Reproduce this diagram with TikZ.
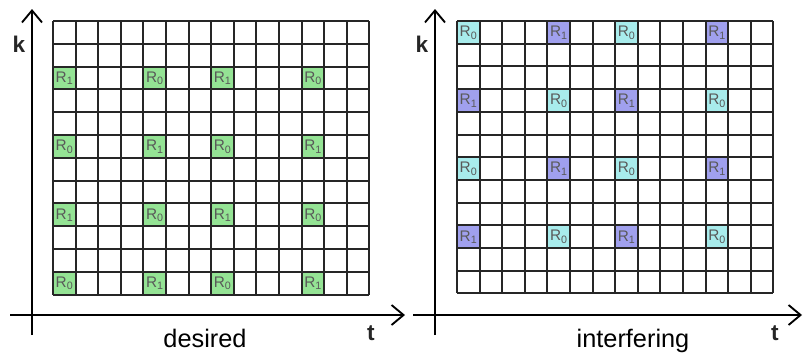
\documentclass[tikz,border=0pt]{standalone}
\usepackage{fontspec}
\setmainfont{Liberation Sans}
\usetikzlibrary{arrows.meta}
\definecolor{desgreen}{HTML}{94E394}
\definecolor{intcyan}{HTML}{A8ECEC}
\definecolor{intpurple}{HTML}{A0A0EE}

\begin{document}
\begin{tikzpicture}[x=0.75pt,y=-0.75pt,
  gridline/.style={line width=1.5pt, draw=black!85},
  axis/.style={line width=1.1pt, -{Straight Barb[length=9pt,width=15pt,line width=1.4pt]}},
  cell/.style={anchor=north west, minimum width=16.95pt, minimum height=17.1pt,
               inner sep=0pt, font=\fontsize{11.5}{11.5}\selectfont, text=black!65},
  axlabel/.style={font=\fontsize{17}{17}\selectfont\bfseries, text=black!85},
  caption/.style={font=\fontsize{19}{19}\selectfont, anchor=base}
]
\useasboundingbox (0,0) rectangle (803,354);

% desired
\foreach \r/\c/\n in {2/0/1, 2/4/0, 2/7/1, 2/11/0,
                      5/0/0, 5/4/1, 5/7/0, 5/11/1,
                      8/0/1, 8/4/0, 8/7/1, 8/11/0,
                      11/0/0, 11/4/1, 11/7/0, 11/11/1}
  \node[cell, fill=desgreen] (des-\r-\c) at ({53+22.6*\c},{21+22.8*\r}) {R\textsubscript{\n}};
\foreach \i in {0,...,14}
  \draw[gridline] ({53+22.6*\i},21) -- ({53+22.6*\i},294.6);
\foreach \j in {0,...,12}
  \draw[gridline] (53,{21+22.8*\j}) -- (369.4,{21+22.8*\j});

\coordinate (des-kbot) at (32,335);
\coordinate (des-ktop) at (32,9);
\coordinate (des-tleft) at (10,315);
\coordinate (des-tright) at (405,315);
\draw[axis] (des-kbot) -- (des-ktop);
\draw[axis] (des-tleft) -- (des-tright);
\node[axlabel] (des-k) at (19,44) {k};
\node[axlabel] (des-t) at (371,333) {t};
\node[caption] (des-cap) at (205,347) {desired};

% interfering
\foreach \r/\c/\n/\col in {0/0/0/intcyan, 0/4/1/intpurple, 0/7/0/intcyan, 0/11/1/intpurple,
                           3/0/1/intpurple, 3/4/0/intcyan, 3/7/1/intpurple, 3/11/0/intcyan,
                           6/0/0/intcyan, 6/4/1/intpurple, 6/7/0/intcyan, 6/11/1/intpurple,
                           9/0/1/intpurple, 9/4/0/intcyan, 9/7/1/intpurple, 9/11/0/intcyan}
  \node[cell, fill=\col] (int-\r-\c) at ({457+22.6*\c},{21+22.7*\r}) {R\textsubscript{\n}};
\foreach \i in {0,...,14}
  \draw[gridline] ({457+22.6*\i},21) -- ({457+22.6*\i},293.4);
\foreach \j in {0,...,12}
  \draw[gridline] (457,{21+22.7*\j}) -- (773.4,{21+22.7*\j});

\coordinate (int-kbot) at (435,335);
\coordinate (int-ktop) at (435,9);
\coordinate (int-tleft) at (413,315);
\coordinate (int-tright) at (802,315);
\draw[axis] (int-kbot) -- (int-ktop);
\draw[axis] (int-tleft) -- (int-tright);
\node[axlabel] (int-k) at (422,44) {k};
\node[axlabel] (int-t) at (775,333) {t};
\node[caption] (int-cap) at (633,347) {interfering};
\end{tikzpicture}
\end{document}
